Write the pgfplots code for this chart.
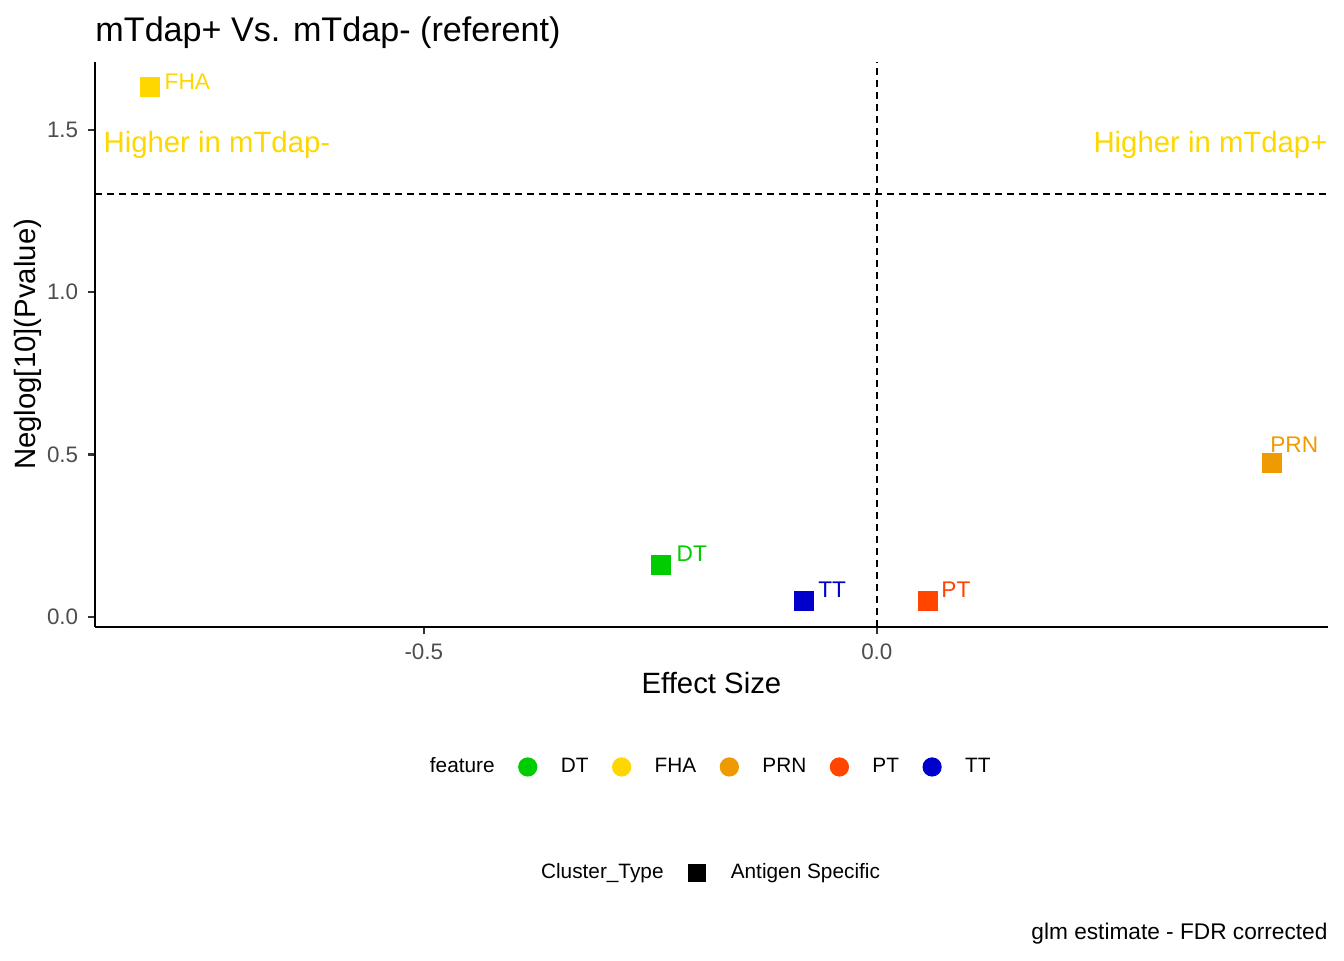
\documentclass[border=0pt]{standalone}
\usepackage{pgfplots}
\pgfplotsset{compat=1.18}
\usepackage{fontspec}
\setmainfont{Liberation Sans}
\definecolor{cDT}{HTML}{00CD00}
\definecolor{cFHA}{HTML}{FFD700}
\definecolor{cPRN}{HTML}{EE9A00}
\definecolor{cPT}{HTML}{FF4500}
\definecolor{cTT}{HTML}{0000CD}
\definecolor{tickgray}{HTML}{4D4D4D}
\begin{document}
\begin{tikzpicture}
\path[use as bounding box] (0,0) rectangle (504pt,360pt);
\begin{axis}[
  at={(35.6pt,124.9pt)}, anchor=south west,
  width=462.4pt, height=211.9pt, scale only axis,
  xmin=-0.863, xmax=0.498, ymin=-0.031, ymax=1.709,
  axis x line*=bottom, axis y line*=left,
  axis line style={-, line width=0.8pt, black},
  tick align=outside, major tick length=2.75pt,
  tick style={line width=0.8pt, color=black!80},
  xtick={-0.5,0}, xticklabels={-0.5,0.0},
  ytick={0,0.5,1,1.5}, yticklabels={0.0,0.5,1.0,1.5},
  ticklabel style={font=\fontsize{8.4}{10}\selectfont, text=tickgray},
  clip=false,
  xlabel={Effect Size},
  xlabel style={at={(axis description cs:0.5,-0.0991)}, anchor=center, font=\fontsize{11}{13}\selectfont},
  ylabel={Neglog[10](Pvalue)},
  ylabel style={at={(axis description cs:-0.0543,0.5)}, anchor=center, rotate=0, font=\fontsize{11}{13}\selectfont},
  title={mTdap+ Vs. mTdap- (referent)},
  title style={at={(axis description cs:0,1.0085)}, anchor=base west, inner sep=0pt, font=\fontsize{12.8}{15}\selectfont},
  legend style={draw=none, fill=none, legend columns=-1, at={(0.2693,-0.2478)}, anchor=west,
    inner sep=0pt, outer sep=0pt, column sep=0pt, font=\fontsize{7.8}{9.4}\selectfont,
    nodes={inner sep=0pt, outer sep=0pt}},
  legend cell align=left,
  legend image code/.code={\path[draw=none] (0pt,0pt) -- (24.8pt,0pt); \draw[#1] plot coordinates {(12.4pt,0pt)};},
]
\addlegendimage{legend image code/.code={\path[draw=none] (0pt,0pt) -- (1.1pt,0pt);}}\addlegendentry{feature\hspace{1.1pt}}
\addlegendimage{only marks, mark=*, mark size=3.4pt, color=cDT}\addlegendentry{DT}
\addlegendimage{only marks, mark=*, mark size=3.4pt, color=cFHA}\addlegendentry{FHA}
\addlegendimage{only marks, mark=*, mark size=3.4pt, color=cPRN}\addlegendentry{PRN}
\addlegendimage{only marks, mark=*, mark size=3.4pt, color=cPT}\addlegendentry{PT}
\addlegendimage{only marks, mark=*, mark size=3.4pt, color=cTT}\addlegendentry{TT}

\addplot[forget plot, black, line width=0.8pt, dash pattern=on 2.6pt off 1.9pt] coordinates {(-0.863,1.301) (0.498,1.301)};
\addplot[forget plot, black, line width=0.8pt, dash pattern=on 2.6pt off 1.9pt] coordinates {(0,-0.031) (0,1.709)};

\addplot[forget plot, only marks, mark=square*, mark size=3.55pt, color=cFHA] coordinates {(-0.802,1.632)};
\addplot[forget plot, only marks, mark=square*, mark size=3.55pt, color=cDT] coordinates {(-0.238,0.160)};
\addplot[forget plot, only marks, mark=square*, mark size=3.55pt, color=cTT] coordinates {(-0.0806,0.049)};
\addplot[forget plot, only marks, mark=square*, mark size=3.55pt, color=cPT] coordinates {(0.0563,0.049)};
\addplot[forget plot, only marks, mark=square*, mark size=3.55pt, color=cPRN] coordinates {(0.436,0.474)};

\begin{scope}[every node/.style={inner sep=0pt, anchor=west, font=\fontsize{8.5}{10}\selectfont}]
\node[text=cFHA, xshift=5.25pt, yshift=1.9pt] at (axis cs:-0.802,1.632) {FHA};
\node[text=cDT, xshift=5.6pt, yshift=4.1pt] at (axis cs:-0.238,0.160) {DT};
\node[text=cTT, xshift=5.25pt, yshift=4.1pt] at (axis cs:-0.0806,0.049) {TT};
\node[text=cPT, xshift=4.9pt, yshift=4.1pt] at (axis cs:0.0563,0.049) {PT};
\node[text=cPRN, xshift=-0.75pt, yshift=6.75pt] at (axis cs:0.436,0.474) {PRN};
\end{scope}

\node[inner sep=0pt, anchor=west, text=cFHA, font=\fontsize{11}{13}\selectfont] at (axis cs:-0.854,1.454) {Higher in mTdap-};
\node[inner sep=0pt, anchor=east, text=cFHA, font=\fontsize{11}{13}\selectfont] at (axis cs:0.498,1.454) {Higher in mTdap+};
\node[inner sep=0pt, anchor=east, font=\fontsize{8.5}{10.2}\selectfont] at (axis description cs:1,-0.5435) {glm estimate - FDR corrected};
\end{axis}
\begin{axis}[
  at={(35.6pt,124.9pt)}, anchor=south west,
  width=462.4pt, height=211.9pt, scale only axis,
  xmin=0, xmax=1, ymin=0, ymax=1, hide axis, clip=false,
  legend style={draw=none, fill=none, legend columns=-1, at={(0.3618,-0.4350)}, anchor=west,
    inner sep=0pt, outer sep=0pt, column sep=0pt, font=\fontsize{7.8}{9.4}\selectfont,
    nodes={inner sep=0pt, outer sep=0pt}},
  legend cell align=left,
  legend image code/.code={\path[draw=none] (0pt,0pt) -- (25.2pt,0pt); \draw[#1] plot coordinates {(12.6pt,0pt)};},
]
\addplot[forget plot, draw=none] coordinates {(0,0)};
\addlegendimage{empty legend}\addlegendentry{Cluster\_Type}
\addlegendimage{only marks, mark=square*, mark size=3.1pt, color=black}\addlegendentry{Antigen Specific}
\end{axis}
\end{tikzpicture}
\end{document}
